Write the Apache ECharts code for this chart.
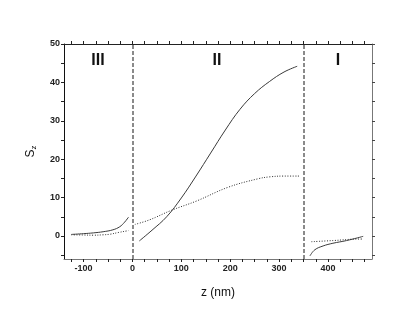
<!DOCTYPE html>
<html>
<head>
<meta charset="utf-8">
<script src="https://cdn.jsdelivr.net/npm/echarts@6/dist/echarts.min.js"></script>
<style>
  html, body { margin: 0; padding: 0; background: #fff; }
  #chart { width: 415px; height: 321px; }
</style>
</head>
<body>
<div id="chart"></div>
<script>
// region III (z < 0)
const zIIISolid = [-125, -100, -80, -60, -40, -26, -16, -8];
const sIIISolid = [0.4, 0.6, 0.8, 1.1, 1.6, 2.4, 3.6, 4.9];
const zIIIDot = [-125, -100, -80, -60, -46, -29, -12, -8];
const sIIIDot = [0.3, 0.25, 0.2, 0.3, 0.45, 0.9, 1.3, 1.4];

// region II (0 < z < 350)
const zIISolid = [14, 40, 70, 100, 130, 160, 190, 220, 250, 280, 310, 337];
const sIISolid = [-1.3, 1.5, 5.0, 9.9, 15.6, 21.6, 27.6, 33.0, 37.1, 40.2, 42.7, 44.2];
const zIIDot = [5, 35, 80, 131, 196, 257, 281, 310, 342];
const sIIDot = [3.0, 4.2, 6.7, 9.1, 12.7, 14.9, 15.4, 15.6, 15.6];

// region I (z > 350)
const zISolid = [363, 373, 390, 410, 438, 472];
const sISolid = [-5.2, -3.6, -2.6, -1.9, -1.2, -0.1];
const zIDot = [366, 410, 465, 470];
const sIDot = [-1.5, -1.2, -0.8, -0.8];

const boundaries = [0, 350];
const xLabels = [-100, 0, 100, 200, 300, 400];
const xTicks = [-125, -100, -75, -50, -25, 0, 25, 50, 75, 100, 125, 150, 175, 200,
  225, 250, 275, 300, 325, 350, 375, 400, 425, 450, 475];
const yLabels = [0, 10, 20, 30, 40, 50];
const yTicks = [-5, 0, 5, 10, 15, 20, 25, 30, 35, 40, 45, 50];

const regionNames = ['III', 'II', 'I'];
const regionPos = [[98, 61], [217, 61], [338, 61]];

const pairs = (xs, ys) => xs.map((x, i) => [x, ys[i]]);

const font = 'Arial, "Liberation Sans", sans-serif';
const solidStyle = { color: '#3a3a3a', width: 1 };
const dotStyle = { color: '#2a2a2a', width: 1, type: [1, 1.6] };

function curve(xs, ys, style) {
  return {
    type: 'line',
    data: pairs(xs, ys),
    smooth: 0.4,
    symbol: 'none',
    lineStyle: style,
    silent: true
  };
}

const chart = echarts.init(document.getElementById('chart'));

const series = [
  curve(zIIISolid, sIIISolid, solidStyle),
  curve(zIIIDot, sIIIDot, dotStyle),
  curve(zIISolid, sIISolid, solidStyle),
  curve(zIIDot, sIIDot, dotStyle),
  curve(zISolid, sISolid, solidStyle),
  curve(zIDot, sIDot, dotStyle)
];
series[0].markLine = {
  silent: true,
  symbol: 'none',
  label: { show: false },
  lineStyle: { color: '#8a8a8a', width: 2, type: [4, 2] },
  data: boundaries.map((v) => ({ xAxis: v }))
};

chart.setOption({
  animation: false,
  grid: { left: 64, right: 43, top: 44, bottom: 62 },
  xAxis: [
    {
      type: 'value',
      position: 'bottom',
      min: -140,
      max: 490,
      interval: 5,
      name: 'z (nm)',
      nameLocation: 'middle',
      nameGap: 28,
      nameTextStyle: { fontFamily: font, fontSize: 12, color: '#111' },
      splitLine: { show: false },
      axisLine: { onZero: false, lineStyle: { color: '#777', width: 1 } },
      axisTick: { customValues: xTicks, length: 3, lineStyle: { color: '#222' } },
      axisLabel: { customValues: xLabels, fontFamily: font, fontSize: 9, fontWeight: 'bold', color: '#222', margin: 5 }
    },
    {
      type: 'value',
      position: 'top',
      min: -140,
      max: 490,
      interval: 5,
      splitLine: { show: false },
      axisLine: { onZero: false, lineStyle: { color: '#222', width: 1 } },
      axisTick: { customValues: xTicks, length: 3, lineStyle: { color: '#222' } },
      axisLabel: { show: false }
    }
  ],
  yAxis: [
    {
      type: 'value',
      position: 'left',
      min: -6,
      max: 50,
      interval: 1,
      name: '{s|S}{z|z}',
      nameLocation: 'middle',
      nameRotate: 90,
      nameGap: 26,
      nameTextStyle: {
        rich: {
          s: { fontFamily: font, fontSize: 12, color: '#111', lineHeight: 14 },
          z: { fontFamily: font, fontSize: 8, color: '#111', lineHeight: 14, verticalAlign: 'bottom' }
        }
      },
      splitLine: { show: false },
      axisLine: { onZero: false, lineStyle: { color: '#111', width: 1 } },
      axisTick: { customValues: yTicks, length: 3, lineStyle: { color: '#222' } },
      axisLabel: { customValues: yLabels, fontFamily: font, fontSize: 9, fontWeight: 'bold', color: '#222', margin: 4 }
    },
    {
      type: 'value',
      position: 'right',
      min: -6,
      max: 50,
      interval: 1,
      splitLine: { show: false },
      axisLine: { onZero: false, lineStyle: { color: '#777', width: 1 } },
      axisTick: { customValues: yTicks, length: 3, lineStyle: { color: '#444' } },
      axisLabel: { show: false }
    }
  ],
  graphic: regionNames.map((t, i) => ({
    type: 'text',
    x: regionPos[i][0],
    y: regionPos[i][1],
    style: {
      text: t,
      font: 'bold 16px ' + font,
      fill: '#111',
      align: 'center',
      verticalAlign: 'middle'
    }
  })),
  series: series
});
</script>
</body>
</html>
